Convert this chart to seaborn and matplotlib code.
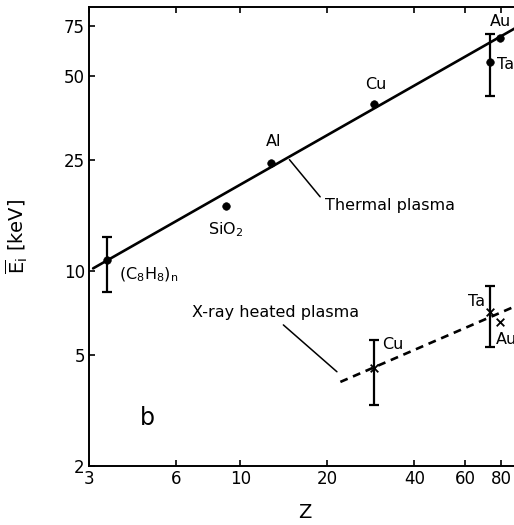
import numpy as np
import matplotlib
matplotlib.use('Agg')
import matplotlib.pyplot as plt
import seaborn as sns
import pandas as pd

# thermal plasma (filled circles)
thermal_names = ['(C8H8)n', 'SiO2', 'Al', 'Cu', 'Ta', 'Au']
thermal_z = [3.46, 8.9, 12.8, 29, 73, 79]
thermal_e = [10.9, 17.0, 24.4, 39.7, 56.0, 68.4]
thermal_err_lo = [8.4, None, None, None, 42.4, None]
thermal_err_hi = [13.2, None, None, None, 70.7, None]

# fit line for thermal plasma (end points)
thermal_fit_z = [3.1, 100]
thermal_fit_e = [10.2, 79.0]

# x-ray heated plasma (crosses)
xray_names = ['Cu', 'Ta', 'Au']
xray_z = [29, 73, 79]
xray_e = [4.49, 7.13, 6.56]
xray_err_lo = [3.31, 5.34, None]
xray_err_hi = [5.66, 8.83, None]

xray_fit_z = [22.2, 100]
xray_fit_e = [4.0, 7.85]

x_ticks = [3, 6, 10, 20, 40, 60, 80]
y_ticks = [2, 5, 10, 25, 50, 75]

sns.set_theme(style='ticks')
plt.rcParams['font.family'] = ['DejaVu Sans']
plt.rcParams['mathtext.default'] = 'regular'
plt.rcParams['text.color'] = 'black'
plt.rcParams['axes.labelcolor'] = 'black'
plt.rcParams['xtick.color'] = 'black'
plt.rcParams['ytick.color'] = 'black'

fig = plt.figure(figsize=(5.14, 5.25), dpi=100)
# right spine sits just outside the picture, as in the cropped original
ax = fig.add_axes([89 / 514, 59 / 525, 431 / 514, 459 / 525])

df_th = pd.DataFrame({'Z': thermal_z, 'E': thermal_e})
df_xr = pd.DataFrame({'Z': xray_z, 'E': xray_e})
df_thfit = pd.DataFrame({'Z': thermal_fit_z, 'E': thermal_fit_e})
df_xrfit = pd.DataFrame({'Z': xray_fit_z, 'E': xray_fit_e})

sns.lineplot(data=df_thfit, x='Z', y='E', ax=ax, color='black', lw=1.9)
sns.lineplot(data=df_xrfit, x='Z', y='E', ax=ax, color='black', lw=1.9,
             linestyle=(0, (3, 2.2)))
sns.scatterplot(data=df_th, x='Z', y='E', ax=ax, color='black', s=30,
                marker='o', edgecolor='black', zorder=5)
sns.scatterplot(data=df_xr, x='Z', y='E', ax=ax, color='black', s=30,
                marker='x', linewidth=1.3, zorder=5)

# error bars
for z, e, lo, hi in list(zip(thermal_z, thermal_e, thermal_err_lo, thermal_err_hi)) + \
        list(zip(xray_z, xray_e, xray_err_lo, xray_err_hi)):
    if lo is None:
        continue
    ax.errorbar([z], [e], yerr=[[e - lo], [hi - e]], fmt='none', ecolor='black',
                elinewidth=1.6, capsize=3.5, capthick=1.6)

ax.set_xscale('log')
ax.set_yscale('log')
ax.set_xlim(3, 92.8)
ax.set_ylim(2, 88)

ax.set_xticks(x_ticks)
ax.set_xticklabels([str(t) for t in x_ticks])
ax.set_yticks(y_ticks)
ax.set_yticklabels([str(t) for t in y_ticks])
ax.minorticks_off()
ax.tick_params(which='major', direction='in', length=4, width=1.2, labelsize=12,
               top=True, right=True, pad=3)
for s in ax.spines.values():
    s.set_linewidth(1.4)
    s.set_color('black')

ax.set_xlabel('Z', fontsize=14, labelpad=11)
ax.set_ylabel(r'$\overline{E}_{i}$ [keV]', fontsize=14, labelpad=24)

fs = 11.5
ax.text(73, 78, 'Au', fontsize=fs, ha='left', va='center')
ax.text(77.2, 54.7, 'Ta', fontsize=fs, ha='left', va='center')
ax.text(29.5, 46.4, 'Cu', fontsize=fs, ha='center', va='center')
ax.text(13, 29.0, 'Al', fontsize=fs, ha='center', va='center')
ax.text(8.9, 14.0, r'SiO$_2$', fontsize=fs, ha='center', va='center')
ax.text(3.82, 9.68, r'(C$_8$H$_8$)$_n$', fontsize=fs, ha='left', va='center')
ax.text(19.7, 17.2, 'Thermal plasma', fontsize=fs, ha='left', va='center')
ax.plot([14.8, 18.9], [25.0, 18.4], color='black', lw=1.1)

ax.text(6.8, 7.07, 'X-ray heated plasma', fontsize=fs, ha='left', va='center')
ax.plot([14.1, 21.6], [6.4, 4.35], color='black', lw=1.1)
ax.text(31.0, 5.43, 'Cu', fontsize=fs, ha='left', va='center')
ax.text(61.5, 7.74, 'Ta', fontsize=fs, ha='left', va='center')
ax.text(76.3, 5.66, 'Au', fontsize=fs, ha='left', va='center')
ax.text(4.5, 2.97, 'b', fontsize=17, ha='left', va='center')

fig.savefig('out.png', dpi=100)
